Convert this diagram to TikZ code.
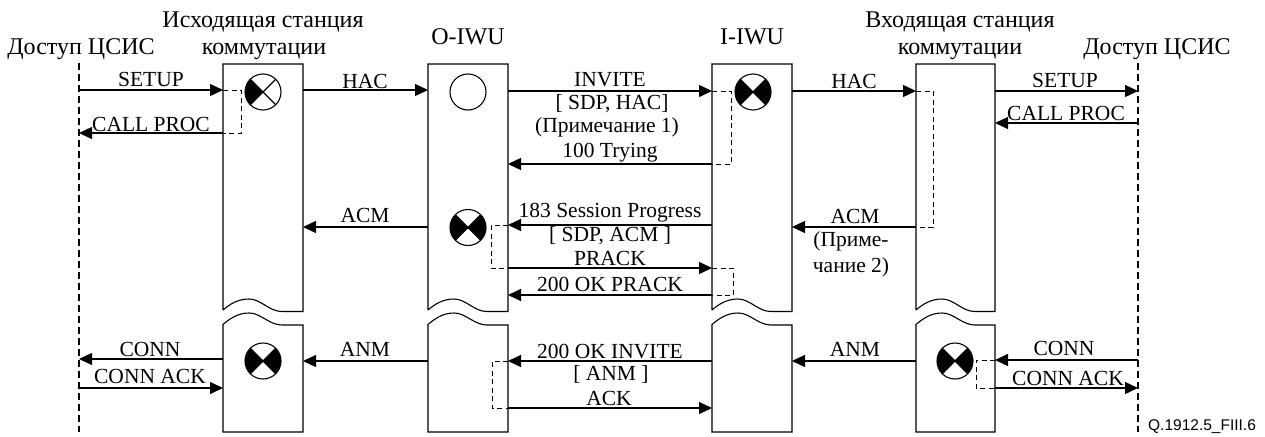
\documentclass[tikz,border=0pt]{standalone}
\usepackage{fontspec}
\setmainfont{Liberation Serif}
\newfontfamily\idfont{Liberation Sans}
\usetikzlibrary{arrows.meta}
\tikzset{
  lbl/.style={font=\fontsize{21.5}{23}\selectfont, inner sep=0pt, anchor=base},
  ttl/.style={font=\fontsize{24}{26}\selectfont, inner sep=0pt, anchor=base},
  msg/.style={line width=1.3pt, -{Triangle[length=13pt,width=12pt]}},
  dloop/.style={line width=0.9pt, dash pattern=on 5pt off 3.5pt},
  life/.style={line width=1.1pt, dash pattern=on 7pt off 4pt},
  boxline/.style={line width=1.1pt},
  pics/xlr/.style={code={
    \fill (0,0) -- (135:18pt) arc[start angle=135,end angle=225,radius=18pt] -- cycle;
    \fill (0,0) -- (-45:18pt) arc[start angle=-45,end angle=45,radius=18pt] -- cycle;
    \draw[line width=1.1pt] (0,0) circle (18pt);
    \draw[line width=1.1pt] (45:18pt) -- (225:18pt) (135:18pt) -- (-45:18pt);
  }},
  pics/xl/.style={code={
    \fill (0,0) -- (135:18pt) arc[start angle=135,end angle=225,radius=18pt] -- cycle;
    \draw[line width=1.1pt] (0,0) circle (18pt);
    \draw[line width=1.1pt] (45:18pt) -- (225:18pt) (135:18pt) -- (-45:18pt);
  }},
  pics/ocirc/.style={code={
    \draw[line width=1.1pt] (0,0) circle (18pt);
  }},
}
\begin{document}
\begin{tikzpicture}[x=1pt,y=-1pt]
\useasboundingbox (0,0) rectangle (1265,436);

% lifeline x positions
\coordinate (L1) at (79,0);
\coordinate (Al) at (223,0);  \coordinate (Ar) at (303,0);
\coordinate (Bl) at (428,0);  \coordinate (Br) at (508,0);
\coordinate (Cl) at (712,0);  \coordinate (Cr) at (792,0);
\coordinate (Dl) at (916,0);  \coordinate (Dr) at (995,0);
\coordinate (L2) at (1138,0);

% access lifelines
\coordinate (L1t) at (79,63);   \coordinate (L1b) at (79,432);
\coordinate (L2t) at (1138,63); \coordinate (L2b) at (1138,432);
\draw[life] (L1t) -- (L1b);
\draw[life] (L2t) -- (L2b);

% boxes with break
\foreach \x/\w in {223/80,428/80,712/80,916/79}{
  \draw[boxline] (\x,310) -- (\x,64) -- (\x+\w,64) -- (\x+\w,311.5) -- (\x+59,311.5)
    .. controls (\x+46,311.5) and (\x+38,299) .. (\x+26,299)
    .. controls (\x+15,299) and (\x+7,304) .. (\x,310);
  \draw[boxline] (\x,432) -- (\x,324.5)
    .. controls (\x+7,318.5) and (\x+15,313) .. (\x+26,313)
    .. controls (\x+38,313) and (\x+46,325) .. (\x+59,325) -- (\x+\w,325) -- (\x+\w,432) -- cycle;
}

% titles
\node[ttl] (tL1) at (81,55) {Доступ ЦСИС};
\node[ttl] (tA1) at (263,28) {Исходящая станция};
\node[ttl] (tA2) at (264,55) {коммутации};
\node[ttl] (tB) at (468,45) {O-IWU};
\node[ttl] (tC) at (752,45) {I-IWU};
\node[ttl] (tD1) at (960,28) {Входящая станция};
\node[ttl] (tD2) at (960,55) {коммутации};
\node[ttl] (tL2) at (1157,55) {Доступ ЦСИС};

% symbols
\pic at (263,92) {xl};
\pic at (468,92) {ocirc};
\pic at (753,92) {xlr};
\pic at (468,227.5) {xlr};
\pic at (263,361) {xlr};
\pic at (955,361) {xlr};

% dashed internal loops
\draw[dloop] (Al |- 0,90) -- (241,90) -- (241,133) -- (Al |- 0,133);
\draw[dloop] (Cl |- 0,91) -- (731,91) -- (731,164) -- (Cl |- 0,164);
\draw[dloop] (Dl |- 0,91) -- (933,91) -- (933,227) -- (Dl |- 0,227);
\draw[dloop] (Br |- 0,225) -- (491,225) -- (491,268) -- (Br |- 0,268);
\draw[dloop] (Cl |- 0,268) -- (733,268) -- (733,295) -- (Cl |- 0,295);
\draw[dloop] (Br |- 0,361) -- (492,361) -- (492,408) -- (Br |- 0,408);
\draw[dloop] (Dr |- 0,360) -- (976,360) -- (976,388) -- (Dr |- 0,388);

% messages
\draw[msg] (L1 |- 0,90) -- (Al |- 0,90);
\draw[msg] (Al |- 0,133) -- (L1 |- 0,133);
\draw[msg] (Ar |- 0,90) -- (Bl |- 0,90);
\draw[msg] (Br |- 0,91) -- (Cl |- 0,91);
\draw[msg] (Cl |- 0,164) -- (Br |- 0,164);
\draw[msg] (Cr |- 0,91) -- (Dl |- 0,91);
\draw[msg] (Dr |- 0,91) -- (L2 |- 0,91);
\draw[msg] (L2 |- 0,123) -- (Dr |- 0,123);
\draw[msg] (Dl |- 0,227) -- (Cr |- 0,227);
\draw[msg] (Cl |- 0,225) -- (Br |- 0,225);
\draw[msg] (Bl |- 0,227) -- (Ar |- 0,227);
\draw[msg] (Br |- 0,268) -- (Cl |- 0,268);
\draw[msg] (Cl |- 0,295) -- (Br |- 0,295);
\draw[msg] (Bl |- 0,361) -- (Ar |- 0,361);
\draw[msg] (Al |- 0,359) -- (L1 |- 0,359);
\draw[msg] (L1 |- 0,388) -- (Al |- 0,388);
\draw[msg] (Cl |- 0,361) -- (Br |- 0,361);
\draw[msg] (Br |- 0,408) -- (Cl |- 0,408);
\draw[msg] (Dl |- 0,361) -- (Cr |- 0,361);
\draw[msg] (L2 |- 0,360) -- (Dr |- 0,360);
\draw[msg] (Dr |- 0,388) -- (L2 |- 0,388);

% labels
\node[lbl] (m1) at (151,86) {SETUP};
\node[lbl] (m2) at (151,131) {CALL PROC};
\node[lbl] (m3) at (365,88) {HAC};
\node[lbl] (m4a) at (610,86) {INVITE};
\node[lbl] (m4b) at (612,109) {[ SDP, HAC]};
\node[lbl] (m4c) at (607,132) {(Примечание 1)};
\node[lbl] (m5) at (610,157) {100 Trying};
\node[lbl] (m6) at (854,88) {HAC};
\node[lbl] (m7) at (1065,87) {SETUP};
\node[lbl] (m8) at (1066,120) {CALL PROC};
\node[lbl] (m9) at (855,223) {ACM};
\node[lbl] (m9b) at (851,246) {(Приме-};
\node[lbl] (m9c) at (851,272) {чание 2)};
\node[lbl] (m10a) at (610,217) {183 Session Progress};
\node[lbl] (m10b) at (610,241) {[ SDP, ACM ]};
\node[lbl] (m11) at (365,222) {ACM};
\node[lbl] (m12) at (610,265) {PRACK};
\node[lbl] (m13) at (610,291) {200 OK PRACK};
\node[lbl] (m14) at (365,356) {ANM};
\node[lbl] (m15) at (150,356) {CONN};
\node[lbl] (m16) at (150,383) {CONN ACK};
\node[lbl] (m17a) at (610,358) {200 OK INVITE};
\node[lbl] (m17b) at (611,380) {[ ANM ]};
\node[lbl] (m18) at (609,405) {ACK};
\node[lbl] (m19) at (855,356) {ANM};
\node[lbl] (m20) at (1064,355) {CONN};
\node[lbl] (m21) at (1068,385) {CONN ACK};

\node[inner sep=0pt, anchor=base, font=\idfont\fontsize{15.5}{17}\selectfont] (fid) at (1202,430) {Q.1912.5\_FIII.6};
\end{tikzpicture}
\end{document}
